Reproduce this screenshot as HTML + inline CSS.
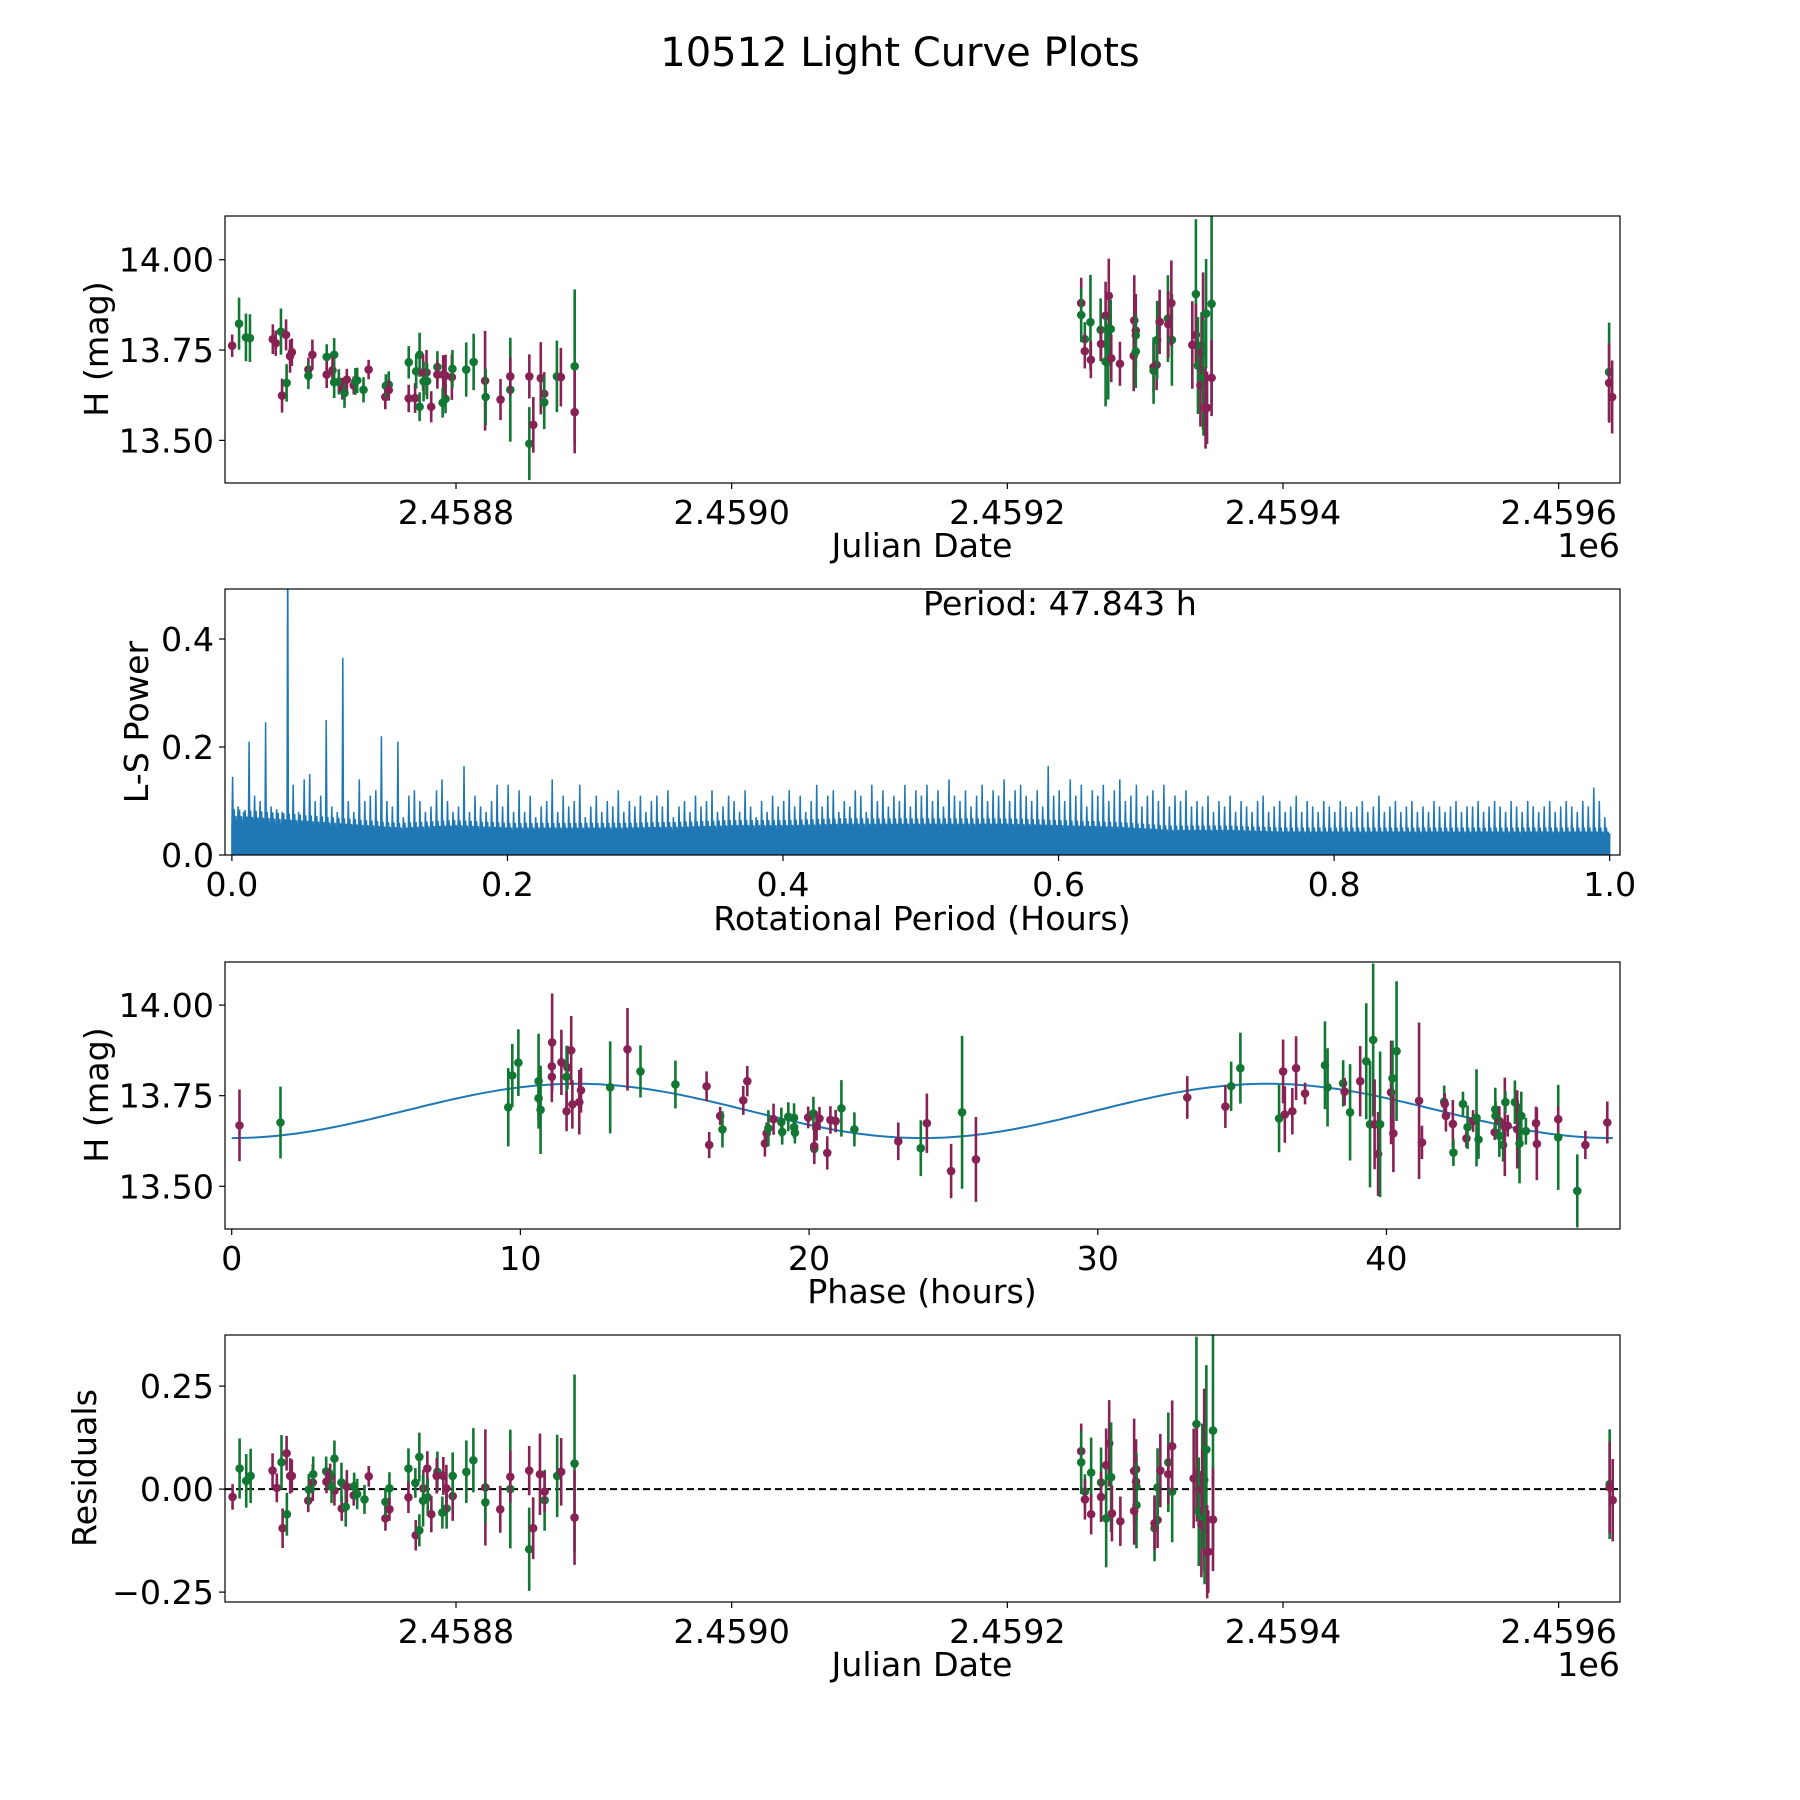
<!DOCTYPE html>
<html><head><meta charset="utf-8"><title>10512 Light Curve Plots</title>
<style>
html,body{margin:0;padding:0;background:#fff;}
svg{display:block;font-family:"DejaVu Sans","Liberation Sans",sans-serif;}
</style></head>
<body>
<svg id="fig" width="1800" height="1800" viewBox="0 0 1800 1800" xmlns="http://www.w3.org/2000/svg">
<rect x="0" y="0" width="1800" height="1800" fill="#fff"/>
<text x="900" y="66" font-size="40" text-anchor="middle">10512 Light Curve Plots</text>
</svg>
<script>
// ---------- Panel 1: light curve vs Julian Date ----------
const lcJd=[2458637.6,2458642.6,2458647.6,2458650.5,2458667.1,2458669.2,2458673.0,2458673.8,2458676.7,2458677.1,2458679.6,2458680.9,2458692.9,2458692.9,2458695.8,2458706.2,2458706.2,2458711.6,2458710.4,2458711.6,2458715.0,2458717.5,2458719.1,2458720.8,2458725.8,2458727.0,2458728.3,2458732.9,2458736.6,2458748.7,2458749.1,2458751.2,2458751.2,2458765.7,2458765.7,2458770.3,2458771.1,2458773.6,2458773.6,2458776.1,2458776.5,2458778.6,2458779.0,2458782.0,2458786.5,2458786.5,2458790.7,2458790.3,2458792.4,2458792.4,2458797.0,2458797.4,2458807.4,2458812.8,2458821.1,2458821.5,2458832.3,2458839.4,2458839.4,2458853.2,2458853.2,2458856.1,2458861.5,2458864.0,2458864.0,2458873.2,2458876.1,2458886.1,2458886.1,
2459253.6,2459253.6,2459256.2,2459256.2,2459260.3,2459260.6,2459267.7,2459268.0,2459271.3,2459271.3,2459273.6,2459273.2,2459275.0,2459275.4,2459281.7,2459292.1,2459293.2,2459293.2,2459291.7,2459293.2,2459306.1,2459306.1,2459308.3,2459308.7,2459310.5,2459316.5,2459316.8,2459319.4,2459319.0,2459334.2,2459336.8,2459336.8,2459338.3,2459340.1,2459340.9,2459341.2,2459342.0,2459342.3,2459344.2,2459343.8,2459344.9,2459348.2,2459348.2,2459636.6,2459636.6,2459638.8];
const lcMag=[13.762,13.823,13.785,13.783,13.780,13.769,13.801,13.624,13.792,13.659,13.733,13.744,13.696,13.679,13.737,13.731,13.682,13.737,13.694,13.661,13.662,13.643,13.631,13.668,13.652,13.663,13.666,13.640,13.696,13.620,13.651,13.654,13.639,13.616,13.716,13.617,13.691,13.737,13.593,13.688,13.663,13.688,13.664,13.593,13.703,13.682,13.682,13.604,13.615,13.679,13.675,13.698,13.696,13.717,13.665,13.620,13.613,13.640,13.677,13.677,13.491,13.543,13.672,13.629,13.605,13.677,13.675,13.705,13.578,
13.880,13.847,13.780,13.747,13.827,13.723,13.806,13.767,13.845,13.718,13.900,13.718,13.808,13.727,13.712,13.832,13.804,13.791,13.734,13.746,13.703,13.693,13.709,13.778,13.828,13.837,13.821,13.778,13.880,13.764,13.905,13.792,13.707,13.652,13.763,13.742,13.747,13.673,13.851,13.590,13.590,13.878,13.673,13.689,13.659,13.620];
const lcErr=[.031,.072,.066,.066,.041,.035,.064,.047,.043,.052,.046,.038,.033,.037,.042,.035,.037,.046,.037,.044,.035,.030,.041,.030,.025,.037,.035,.035,.027,.034,.032,.037,.029,.038,.045,.041,.048,.061,.040,.050,.055,.062,.050,.043,.044,.039,.054,.041,.040,.058,.063,.052,.075,.078,.138,.078,.057,.144,.053,.061,.101,.077,.100,.060,.074,.099,.081,.213,.114,
.070,.075,.047,.048,.131,.051,.087,.046,.094,.124,.103,.105,.081,.066,.061,.125,.101,.058,.098,.101,.069,.092,.070,.108,.089,.120,.092,.127,.118,.121,.207,.085,.134,.114,.092,.092,.218,.160,.151,.113,.100,.281,.106,.137,.110,.101];
// band letters: p = purple filter, g = green filter
const lcBands=["p","g","g","g","p","p","g","p","p","g","p","p","p","g","p","g","p","g","p","g","g","p","g","p","p","g","g","g","p","p","g","g","p","p","g","p","g","g","g","p","g","p","g","p","g","p","p","g","g","p","p","g","g","g","p","g","p","g","p","p","g","p","p","p","g","g","p","g","p",
"p","g","g","p","g","p","g","p","p","g","p","g","g","p","p","p","p","g","p","g","p","g","p","g","p","g","p","g","p","p","g","p","g","p","g","p","p","g","g","p","p","g","p","g","p","p"];

// ---------- Panel 2: Lomb-Scargle periodogram ----------
const lsPeakPower=[0.145,0.09,0.08,0.21,0.11,0.10,0.246,0.09,0.085,0.08,0.6,0.13,0.08,0.14,0.15,0.10,0.11,0.25,0.09,0.08,0.365,0.10,0.08,0.14,0.10,
0.11,0.12,0.22,0.10,0.09,0.21,0.07,0.11,0.12,0.10,0.08,0.09,0.12,0.14,0.10,0.08,0.09,0.165,0.08,0.11,0.09,0.08,0.10,0.13,0.09,
0.13,0.08,0.12,0.08,0.11,0.07,0.09,0.10,0.14,0.08,0.11,0.09,0.10,0.13,0.07,0.09,0.11,0.08,0.10,0.09,0.12,0.08,0.10,0.09,0.11,
0.08,0.10,0.11,0.09,0.12,0.07,0.09,0.10,0.08,0.11,0.09,0.10,0.12,0.08,0.09,0.11,0.10,0.08,0.12,0.09,0.07,0.10,0.08,0.11,0.09,
0.10,0.12,0.09,0.11,0.08,0.10,0.13,0.09,0.11,0.12,0.08,0.10,0.09,0.12,0.11,0.08,0.13,0.10,0.12,0.09,0.11,0.10,0.13,0.09,0.12,
0.11,0.13,0.10,0.12,0.09,0.14,0.11,0.10,0.12,0.09,0.11,0.13,0.10,0.12,0.11,0.14,0.10,0.12,0.13,0.11,0.10,0.12,0.09,0.165,0.11,
0.12,0.10,0.14,0.11,0.13,0.09,0.12,0.11,0.13,0.10,0.12,0.14,0.10,0.11,0.13,0.09,0.11,0.12,0.10,0.13,0.09,0.11,0.10,0.12,0.09,
0.10,0.09,0.11,0.08,0.10,0.09,0.11,0.08,0.10,0.09,0.08,0.10,0.11,0.08,0.09,0.10,0.08,0.09,0.11,0.08,0.10,0.09,0.08,0.10,0.09,
0.08,0.10,0.09,0.08,0.09,0.10,0.08,0.09,0.11,0.08,0.09,0.10,0.08,0.09,0.10,0.08,0.09,0.08,0.10,0.09,0.08,0.09,0.10,0.08,0.09,
0.09,0.10,0.08,0.09,0.10,0.09,0.08,0.10,0.09,0.08,0.10,0.09,0.08,0.09,0.10,0.08,0.09,0.10,0.09,0.08,0.10,0.09,0.125,0.10,0.07];
const lsFloorPower=[0.05,0.045,0.04,0.035,0.038,0.035,0.035,0.035,0.036,0.038,0.038,0.04,0.04,0.04,0.04,0.038,0.036,0.032,0.032,0.03,0.03,0.03,0.03,0.03,0.03,0.03];
const lsPeriodLabel="Period: 47.843 h";

// ---------- Panel 3: phase-folded ----------
const phHours=[0.27,1.69,9.58,9.72,9.93,10.63,10.63,10.70,11.10,11.09,11.09,11.42,11.63,11.60,11.60,11.76,11.80,12.04,12.10,13.11,13.71,14.16,15.37,16.45,16.54,16.92,17.00,17.72,17.86,18.47,18.53,18.59,18.77,19.04,19.07,19.28,19.48,19.48,19.51,19.97,20.15,20.18,20.18,20.26,20.36,20.63,20.74,20.92,21.12,21.57,23.09,23.87,24.08,24.92,25.30,25.78,33.10,34.42,34.62,34.94,36.28,36.42,36.48,36.74,36.87,37.18,37.87,37.96,38.50,38.55,38.74,39.09,39.30,39.43,39.54,39.59,39.71,39.78,40.16,40.21,40.24,40.35,41.13,41.23,42.00,42.02,42.06,42.30,42.32,42.65,42.77,42.81,43.00,43.12,43.19,43.75,43.77,43.78,43.91,43.91,44.04,44.10,44.12,44.20,44.45,44.53,44.61,44.67,44.83,45.18,45.21,45.95,45.95,46.61,46.89,47.65];
const phMag=[13.668,13.676,13.718,13.806,13.841,13.790,13.743,13.711,13.897,13.831,13.802,13.842,13.828,13.802,13.707,13.875,13.726,13.732,13.765,13.773,13.878,13.817,13.781,13.776,13.614,13.694,13.657,13.737,13.790,13.618,13.646,13.660,13.685,13.677,13.650,13.692,13.689,13.663,13.648,13.690,13.701,13.603,13.611,13.666,13.687,13.592,13.683,13.680,13.715,13.657,13.624,13.605,13.674,13.542,13.704,13.574,13.745,13.720,13.776,13.826,13.687,13.817,13.698,13.707,13.826,13.756,13.834,13.773,13.784,13.761,13.704,13.790,13.845,13.671,13.904,13.671,13.589,13.671,13.759,13.798,13.646,13.873,13.736,13.621,13.733,13.727,13.694,13.672,13.593,13.727,13.632,13.663,13.680,13.689,13.629,13.649,13.712,13.694,13.680,13.639,13.614,13.664,13.732,13.667,13.732,13.657,13.618,13.694,13.652,13.674,13.617,13.635,13.685,13.487,13.614,13.676];
const phErr=[.099,.099,.108,.087,.092,.131,.060,.122,.135,.070,.070,.090,.060,.085,.055,.095,.067,.089,.062,.127,.114,.072,.066,.041,.036,.025,.050,.040,.042,.036,.030,.050,.043,.040,.035,.040,.040,.030,.030,.030,.046,.030,.050,.040,.032,.046,.038,.031,.078,.047,.052,.077,.082,.075,.211,.117,.059,.059,.068,.098,.093,.088,.078,.064,.088,.030,.121,.108,.064,.038,.133,.097,.160,.174,.211,.124,.116,.201,.143,.104,.107,.193,.216,.046,.045,.030,.043,.066,.037,.034,.025,.060,.030,.134,.053,.021,.060,.040,.041,.058,.046,.136,.030,.030,.060,.108,.110,.067,.037,.046,.100,.145,.036,.101,.039,.058];
const phBands=["p","g","g","g","g","g","g","g","p","p","p","p","p","g","p","p","p","p","p","g","p","g","g","p","p","p","g","p","p","p","p","g","p","g","g","g","g","g","g","p","g","g","p","p","p","p","p","p","g","g","p","g","p","p","g","p","p","p","g","g","g","p","p","p","p","p","g","g","g","p","g","p","g","g","g","p","p","g","p","g","p","g","p","p","g","p","p","p","g","g","p","g","p","g","g","p","g","g","p","g","g","p","g","p","g","p","g","g","g","p","p","g","p","g","p","p"];
const modelMean=13.708, modelAmp=0.075, foldPeriod=47.843;

// ---------- Panel 4: residuals ----------
const rsJd=[2458637.9,2458643.0,2458647.8,2458651.0,2458666.9,2458670.0,2458673.4,2458674.2,2458677.1,2458677.3,2458679.7,2458680.9,2458692.8,2458693.2,2458696.1,2458696.4,2458705.8,2458706.0,2458708.7,2458711.8,2458711.8,2458709.7,2458717.1,2458716.9,2458720.0,2458720.8,2458725.8,2458726.1,2458728.3,2458733.6,2458736.7,2458748.8,2458748.8,2458751.7,2458751.7,2458765.5,2458765.5,2458770.8,2458770.5,2458773.4,2458773.4,2458776.3,2458776.1,2458779.2,2458779.5,2458782.1,2458786.5,2458786.0,2458790.8,2458790.1,2458793.2,2458793.0,2458797.6,2458797.6,2458807.5,2458812.6,2458821.3,2458821.3,2458832.1,2458839.4,2458839.4,2458853.1,2458853.1,2458856.0,2458860.9,2458864.3,2458864.3,2458873.4,2458876.3,2458886.0,2458886.0,
2459253.6,2459253.6,2459256.3,2459256.3,2459260.8,2459260.8,2459268.0,2459268.0,2459271.7,2459271.7,2459273.9,2459275.3,2459275.9,2459282.0,2459292.0,2459293.4,2459293.7,2459293.4,2459293.7,2459292.0,2459306.8,2459306.8,2459309.0,2459309.0,2459311.0,2459316.8,2459316.8,2459319.6,2459319.6,2459335.2,2459337.2,2459337.5,2459338.9,2459340.8,2459341.4,2459341.4,2459342.8,2459343.1,2459344.4,2459345.0,2459345.8,2459349.2,2459349.2,2459637.0,2459637.0,2459639.2];
const rsVal=[-.019,.050,.020,.032,.045,.003,.065,-.095,.087,-.061,.032,.032,-.028,-.001,.016,.036,.043,.018,.032,.074,-.004,.006,-.047,.016,-.043,.006,-.015,.007,-.012,-.025,.031,-.071,-.031,.002,-.049,.050,-.020,-.112,.015,-.100,.078,.002,-.028,.050,-.020,-.061,.042,.032,.032,-.057,-.047,.002,-.017,.032,.042,.070,.004,-.032,-.049,.000,.030,.045,-.146,-.095,.036,-.027,-.006,.032,.042,.062,-.069,
.092,.065,-.006,-.025,.040,-.061,.016,-.019,.058,-.071,.111,.029,-.059,-.078,.044,.048,.006,.018,-.039,-.053,-.095,-.083,-.075,.004,.045,.065,.036,-.006,.104,.026,.158,.036,-.055,-.085,.006,-.001,.022,-.069,.096,-.152,-.152,.142,-.074,.012,.004,-.027];
const rsErr=[.031,.073,.065,.066,.042,.035,.066,.048,.042,.052,.043,.040,.028,.038,.045,.043,.036,.028,.030,.044,.036,.040,.030,.048,.048,.040,.025,.033,.037,.035,.025,.030,.034,.039,.028,.049,.038,.037,.036,.039,.059,.045,.063,.042,.045,.044,.049,.043,.046,.039,.049,.057,.060,.057,.076,.078,.141,.050,.057,.144,.063,.060,.101,.075,.099,.074,.049,.100,.082,.216,.115,
.067,.077,.042,.049,.085,.049,.085,.061,.089,.119,.105,.133,.068,.060,.127,.073,.081,.060,.105,.082,.080,.065,.068,.095,.089,.121,.073,.123,.111,.121,.212,.115,.132,.129,.153,.100,.222,.162,.205,.113,.100,.291,.125,.133,.111,.100];
const rsBands=["p","g","g","g","p","p","g","p","p","g","p","p","p","g","p","g","g","p","p","g","p","g","p","g","g","p","p","g","g","g","p","p","g","g","p","g","p","p","g","g","g","p","g","p","g","p","g","p","p","g","g","p","p","g","g","g","p","g","p","g","p","p","g","p","p","g","p","g","p","g","p",
"p","g","g","p","g","p","g","p","p","g","p","g","p","p","p","p","g","p","g","p","g","p","p","g","p","g","p","g","p","p","g","p","g","p","g","p","p","g","g","p","p","g","p","g","p","p"];

// ---------- tick arrays ----------
const jdTicks=[2458800,2459000,2459200,2459400,2459600];
const jdTickLabels=["2.4588","2.4590","2.4592","2.4594","2.4596"];
const magTicks=[14.00,13.75,13.50];
const magTickLabels=["14.00","13.75","13.50"];
const lsXTicks=[0,0.2,0.4,0.6,0.8,1.0];
const lsXTickLabels=["0.0","0.2","0.4","0.6","0.8","1.0"];
const lsYTicks=[0,0.2,0.4];
const lsYTickLabels=["0.0","0.2","0.4"];
const phTicks=[0,10,20,30,40];
const phTickLabels=["0","10","20","30","40"];
const rsTicks=[0.25,0,-0.25];
const rsTickLabels=["0.25","0.00","\u22120.25"];

const NS="http://www.w3.org/2000/svg";
const svg=document.getElementById('fig');
const COL={p:"#882255",g:"#117733"};
const L=225,R=1620;
const FS=33.3;
function mk(tag,attrs,parent){const e=document.createElementNS(NS,tag);for(const k in attrs)e.setAttribute(k,attrs[k]);(parent||svg).appendChild(e);return e;}
function lin(d0,d1,p0,p1){return v=>p0+(v-d0)/(d1-d0)*(p1-p0);}

const jdX=lin(2458632.4,2459644.5,L,R);
function panel(name,top,bot){
  const g=mk('g',{});
  
  
  const clip=mk('clipPath',{id:'clip-'+name},g);
  mk('rect',{x:L,y:top,width:R-L,height:bot-top},clip);
  const plot=mk('g',{'clip-path':'url(#clip-'+name+')'},g);
  
  
  return {g,plot,top,bot};
}
function frame(P){
  const r=mk('rect',{x:L,y:P.top,width:R-L,height:P.bot-P.top,fill:'none',stroke:'#000','stroke-width':1.2},P.g);
  
  
}
function xTicks(P,ticks,labels,sx,nm){
  ticks.forEach((t,i)=>{const x=sx(t);
    const ln=mk('line',{x1:x,x2:x,y1:P.bot,y2:P.bot+6,stroke:'#000','stroke-width':1.2},P.g);
    
    
    const tx=mk('text',{x:x,y:P.bot+41,'font-size':FS,'text-anchor':'middle'},P.g);
    tx.textContent=labels[i];
    
    
  });
}
function yTicks(P,ticks,labels,sy,nm){
  ticks.forEach((t,i)=>{const y=sy(t);
    const ln=mk('line',{x1:L-6,x2:L,y1:y,y2:y,stroke:'#000','stroke-width':1.2},P.g);
    
    
    const tx=mk('text',{x:L-11,y:y+12,'font-size':FS,'text-anchor':'end'},P.g);
    tx.textContent=labels[i];
    
    
  });
}
function label(P,txt,x,y,rot,nm){
  const t=mk('text',{x:x,y:y,'font-size':FS,'text-anchor':'middle'},P.g);
  if(rot)t.setAttribute('transform','rotate(-90 '+x+' '+y+')');
  t.textContent=txt;
  
  
}
function errPoints(P,xs,ys,es,bands,sx,sy,nm){
  for(let i=0;i<xs.length;i++){
    const x=sx(xs[i]),c=COL[bands[i]];
    const ln=mk('line',{x1:x,x2:x,y1:sy(ys[i]-es[i]),y2:sy(ys[i]+es[i]),stroke:c,'stroke-width':2.6},P.plot);
    
    
    const d=mk('circle',{cx:x,cy:sy(ys[i]),r:4.3,fill:c},P.plot);
    
    
  }
}

// Panel 1
{
  const P=panel('light-curve-panel',216,483);
  const sy=lin(14.121,13.382,216,483);
  errPoints(P,lcJd,lcMag,lcErr,lcBands,jdX,sy,'light-curve');
  frame(P);
  xTicks(P,jdTicks,jdTickLabels,jdX,'x-axis');
  yTicks(P,magTicks,magTickLabels,sy,'y-axis');
  label(P,'Julian Date',922,557,false,'x-axis-title');
  label(P,'H (mag)',108,349,true,'y-axis-title');
  const o=mk('text',{x:R,y:557,'font-size':FS,'text-anchor':'end'},P.g);
  o.textContent='1e6';
  
  
}
// Panel 2
{
  const P=panel('periodogram-panel',589,855);
  const sx=lin(-0.005,1.0075,L,R);
  const sy=lin(0,0.4926,855,589);
  const step=1/lsPeakPower.length;
  const floorAt=p=>{const f=p/0.04;const i=Math.min(Math.floor(f),lsFloorPower.length-2);const t=f-i;return lsFloorPower[i]*(1-t)+lsFloorPower[i+1]*t;};
  let d='M'+sx(0)+' '+sy(0);
  for(let i=0;i<lsPeakPower.length;i++){
    const p=i*step;
    d+=' L'+sx(p).toFixed(1)+' '+sy(floorAt(p)).toFixed(1)+' L'+sx(p+step*0.12).toFixed(1)+' '+sy(lsPeakPower[i]).toFixed(1)+' L'+sx(p+step*0.25).toFixed(1)+' '+sy(floorAt(p)*0.8).toFixed(1)+' L'+sx(p+step*0.4).toFixed(1)+' '+sy(floorAt(p)*1.7).toFixed(1)+' L'+sx(p+step*0.55).toFixed(1)+' '+sy(floorAt(p)*0.9).toFixed(1)+' L'+sx(p+step*0.72).toFixed(1)+' '+sy(floorAt(p)*1.45).toFixed(1)+' L'+sx(p+step*0.86).toFixed(1)+' '+sy(floorAt(p)*0.85).toFixed(1);
  }
  d+=' L'+sx(1.0)+' '+sy(0.04)+' L'+sx(1.0)+' '+sy(0)+' Z';
  const path=mk('path',{d:d,fill:'#1f77b4',stroke:'#1f77b4','stroke-width':1.5,'stroke-linejoin':'miter'},P.plot);
  
  
  frame(P);
  xTicks(P,lsXTicks,lsXTickLabels,sx,'x-axis');
  yTicks(P,lsYTicks,lsYTickLabels,sy,'y-axis');
  label(P,'Rotational Period (Hours)',922,930,false,'x-axis-title');
  label(P,'L-S Power',148,722,true,'y-axis-title');
  const t=mk('text',{x:923,y:615,'font-size':FS,'text-anchor':'start'},P.g);
  t.textContent=lsPeriodLabel;
  
  
}
// Panel 3
{
  const P=panel('phase-panel',962,1229);
  const sx=lin(-0.232,48.09,L,R);
  const sy=lin(14.119,13.382,962,1229);
  let d='';
  for(let k=0;k<=240;k++){const ph=k/240*foldPeriod;const m=modelMean-modelAmp*Math.cos(4*Math.PI*ph/foldPeriod);d+=(k?' L':'M')+sx(ph).toFixed(1)+' '+sy(m).toFixed(1);}
  const c=mk('path',{d:d,fill:'none',stroke:'#1f77b4','stroke-width':2},P.plot);
  
  
  errPoints(P,phHours,phMag,phErr,phBands,sx,sy,'phase');
  frame(P);
  xTicks(P,phTicks,phTickLabels,sx,'x-axis');
  yTicks(P,magTicks,magTickLabels,sy,'y-axis');
  label(P,'Phase (hours)',922,1303,false,'x-axis-title');
  label(P,'H (mag)',108,1095,true,'y-axis-title');
}
// Panel 4
{
  const P=panel('residuals-panel',1335,1602);
  const sy=lin(0.374,-0.274,1335,1602);
  const z=mk('line',{x1:L,x2:R,y1:sy(0),y2:sy(0),stroke:'#000','stroke-width':2,'stroke-dasharray':'7,4'},P.plot);
  
  
  errPoints(P,rsJd,rsVal,rsErr,rsBands,jdX,sy,'residual');
  frame(P);
  xTicks(P,jdTicks,jdTickLabels,jdX,'x-axis');
  yTicks(P,rsTicks,rsTickLabels,sy,'y-axis');
  label(P,'Julian Date',922,1676,false,'x-axis-title');
  label(P,'Residuals',96,1468,true,'y-axis-title');
  const o=mk('text',{x:R,y:1676,'font-size':FS,'text-anchor':'end'},P.g);
  o.textContent='1e6';
  
  
}
</script>
</body></html>
